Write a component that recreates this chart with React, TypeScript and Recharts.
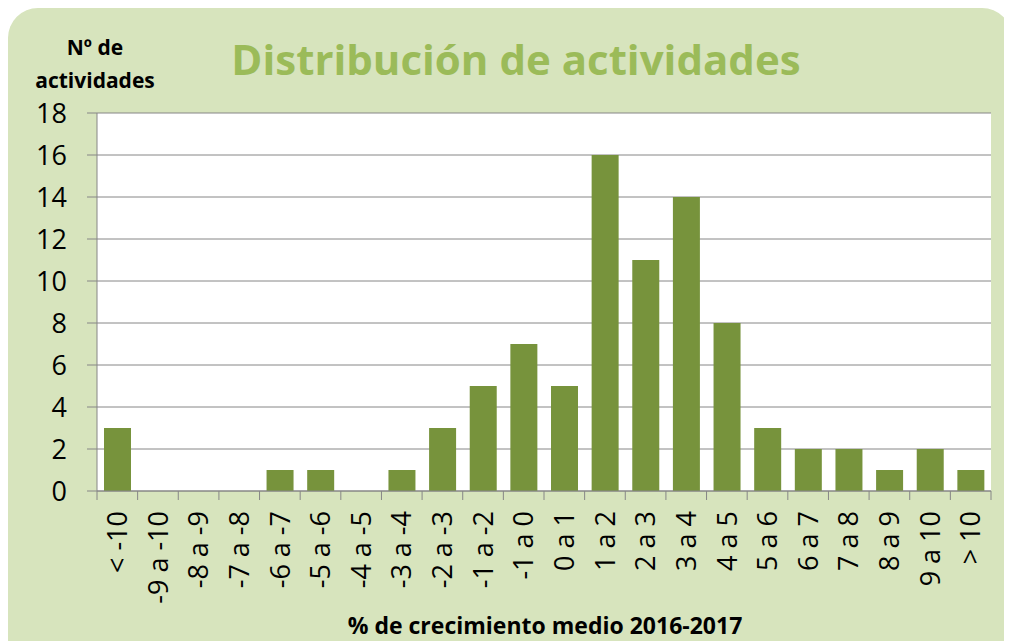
import { BarChart, Bar, XAxis, YAxis, CartesianGrid } from 'recharts';

const categories = [
  '< -10', '-9 a -10', '-8 a -9', '-7 a -8', '-6 a -7', '-5 a -6', '-4 a -5', '-3 a -4',
  '-2 a -3', '-1 a -2', '-1 a 0', '0 a 1', '1 a 2', '2 a 3', '3 a 4', '4 a 5',
  '5 a 6', '6 a 7', '7 a 8', '8 a 9', '9 a 10', '> 10',
];
const counts = [3, 0, 0, 0, 1, 1, 0, 1, 3, 5, 7, 5, 16, 11, 14, 8, 3, 2, 2, 1, 2, 1];
const yTicks = [0, 2, 4, 6, 8, 10, 12, 14, 16, 18];

const chartData = categories.map((name, i) => ({ name, value: counts[i] }));

const W = 1004;
const H = 633;
const PLOT_LEFT = 89;
const PLOT_RIGHT = 983;
const BAND = (PLOT_RIGHT - PLOT_LEFT) / categories.length;
const FONT = '"Open Sans", "Noto Sans", sans-serif';
const GRID = '#868686';

function XTick(props: any) {
  const { x, y, payload, index } = props;
  const last = index === categories.length - 1;
  return (
    <g>
      <line x1={x - BAND / 2} x2={x - BAND / 2} y1={y} y2={y + 9} stroke={GRID} />
      {last && <line x1={x + BAND / 2} x2={x + BAND / 2} y1={y} y2={y + 9} stroke={GRID} />}
      <text
        x={x}
        y={y + 20}
        transform={`rotate(-90, ${x}, ${y + 20})`}
        textAnchor="end"
        dy="0.36em"
        fontSize={27}
        fontFamily={FONT}
        fill="#000"
      >
        {payload.value}
      </text>
    </g>
  );
}

export default function App() {
  return (
    <div
      style={{
        position: 'relative',
        width: W,
        height: H,
        background: '#D7E4BD',
        borderRadius: '30px 30px 0 0',
        fontFamily: FONT,
      }}
    >
      <div
        style={{
          position: 'absolute',
          left: 0,
          width: 1016,
          top: 21,
          textAlign: 'center',
          fontSize: 42,
          fontWeight: 700,
          color: '#9BBB59',
          lineHeight: '60px',
        }}
      >
        Distribución de actividades
      </div>
      <div
        style={{
          position: 'absolute',
          left: 17,
          width: 140,
          top: 23,
          textAlign: 'center',
          fontSize: 21,
          fontWeight: 700,
          lineHeight: '33px',
          color: '#000',
        }}
      >
        Nº de
        <br />
        actividades
      </div>
      <div
        style={{
          position: 'absolute',
          left: 0,
          width: 1074,
          top: 602,
          textAlign: 'center',
          fontSize: 23,
          fontWeight: 700,
          lineHeight: '30px',
          color: '#000',
        }}
      >
        % de crecimiento medio 2016-2017
      </div>
      <div style={{ position: 'absolute', left: 0, top: 0 }}>
        <BarChart
          width={W}
          height={H}
          data={chartData}
          margin={{ top: 105, right: W - PLOT_RIGHT, bottom: 10, left: 0 }}
        >
          <CartesianGrid horizontal vertical={false} stroke={GRID} fill="#FFFFFF" />
          <XAxis
            dataKey="name"
            interval={0}
            height={140}
            tickSize={0}
            tickMargin={0}
            tickLine={false}
            axisLine={{ stroke: GRID }}
            tick={<XTick />}
          />
          <YAxis
            width={PLOT_LEFT}
            domain={[0, 18]}
            ticks={yTicks}
            interval={0}
            tickSize={10}
            tickMargin={20}
            axisLine={{ stroke: GRID }}
            tickLine={{ stroke: GRID }}
            tick={{ fontSize: 27, fontFamily: FONT, fill: '#000' }}
          />
          <Bar dataKey="value" fill="#77933C" barSize={27} isAnimationActive={false} />
        </BarChart>
      </div>
    </div>
  );
}
